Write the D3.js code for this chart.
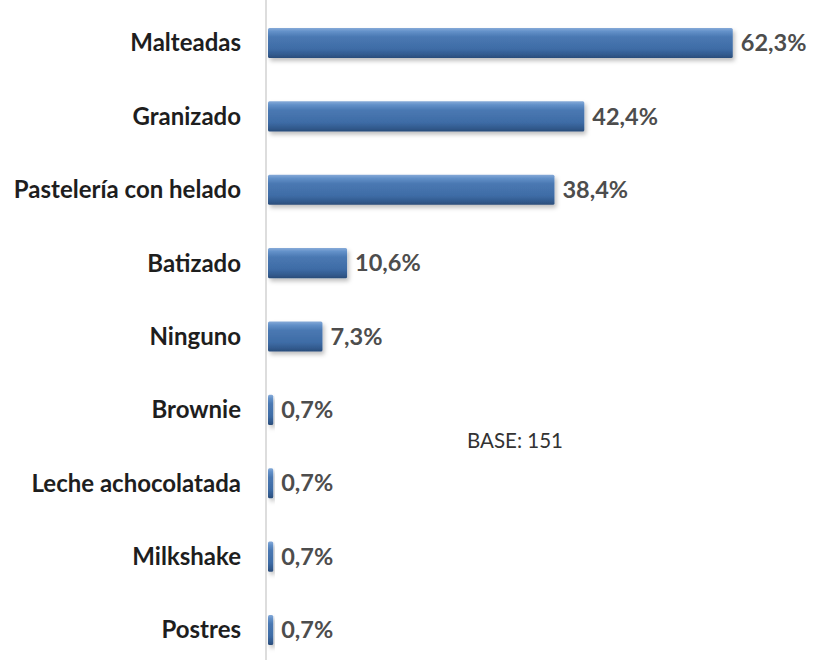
<!DOCTYPE html>
<html>
<head>
<meta charset="utf-8">
<script src="https://cdn.jsdelivr.net/npm/d3@7"></script>
<style>
  html, body { margin: 0; padding: 0; background: #fff; }
  svg { display: block; }
</style>
</head>
<body>
<div id="chart"></div>
<script>
// Categories and percentages (share of respondents)
const categories = ["Malteadas", "Granizado", "Pastelería con helado", "Batizado", "Ninguno",
                    "Brownie", "Leche achocolatada", "Milkshake", "Postres"];
const values = [62.3, 42.4, 38.4, 10.6, 7.3, 0.7, 0.7, 0.7, 0.7];
const baseNote = "BASE: 151";

const W = 813, H = 660;
const svg = d3.select("#chart").append("svg").attr("width", W).attr("height", H);

const x = d3.scaleLinear().domain([0, 100]).range([268, 268 + 746]);
const y = d3.scaleBand().domain(categories).range([6.3, 666.7])
  .paddingInner(0.59).paddingOuter(0.295);

const defs = svg.append("defs");
const grad = defs.append("linearGradient").attr("id", "barGrad")
  .attr("x1", 0).attr("y1", 0).attr("x2", 0).attr("y2", 1);
[[0, "#86aad8"], [0.12, "#6290c8"], [0.3, "#4a78b2"], [0.7, "#3e6ca6"], [0.9, "#31598c"], [1, "#2a4c79"]]
  .forEach(([o, c]) => grad.append("stop").attr("offset", o).attr("stop-color", c));
const shadow = defs.append("filter").attr("id", "shadow")
  .attr("x", "-10%").attr("y", "-30%").attr("width", "130%").attr("height", "180%");
shadow.append("feDropShadow").attr("dx", 2).attr("dy", 3).attr("stdDeviation", 2)
  .attr("flood-color", "#000").attr("flood-opacity", 0.25);

// Vertical axis line
svg.append("line")
  .attr("x1", 266).attr("x2", 266).attr("y1", 0).attr("y2", H)
  .attr("stroke", "#d2d2d2").attr("stroke-width", 1.5);

const rows = svg.selectAll("g.row").data(categories.map((c, i) => ({ c, v: values[i] })))
  .enter().append("g").attr("class", "row");

rows.append("rect")
  .attr("x", x(0))
  .attr("y", d => y(d.c))
  .attr("width", d => Math.max(3, x(d.v) - x(0)))
  .attr("height", y.bandwidth())
  .attr("rx", 1.5)
  .attr("fill", "url(#barGrad)")
  .attr("filter", "url(#shadow)");

rows.append("text")
  .attr("x", 241)
  .attr("y", d => y(d.c) + y.bandwidth() / 2)
  .attr("dy", "0.35em")
  .attr("text-anchor", "end")
  .attr("font-family", "Lato, 'Open Sans', sans-serif")
  .attr("font-weight", "bold")
  .attr("font-size", 24)
  .attr("fill", "#1e1e1e")
  .text(d => d.c);

rows.append("text")
  .attr("x", d => Math.max(x(0) + 3, x(d.v)) + 8)
  .attr("y", d => y(d.c) + y.bandwidth() / 2)
  .attr("dy", "0.35em")
  .attr("font-family", "Lato, 'Open Sans', sans-serif")
  .attr("font-weight", "bold")
  .attr("font-size", 23.5)
  .attr("fill", "#4d4d4d")
  .text(d => d3.format(".1f")(d.v).replace(".", ",") + "%");

svg.append("text")
  .attr("x", 467).attr("y", 448)
  .attr("font-family", "Lato, 'Open Sans', sans-serif")
  .attr("font-size", 20.5)
  .attr("fill", "#333")
  .text(baseNote);
</script>
</body>
</html>
